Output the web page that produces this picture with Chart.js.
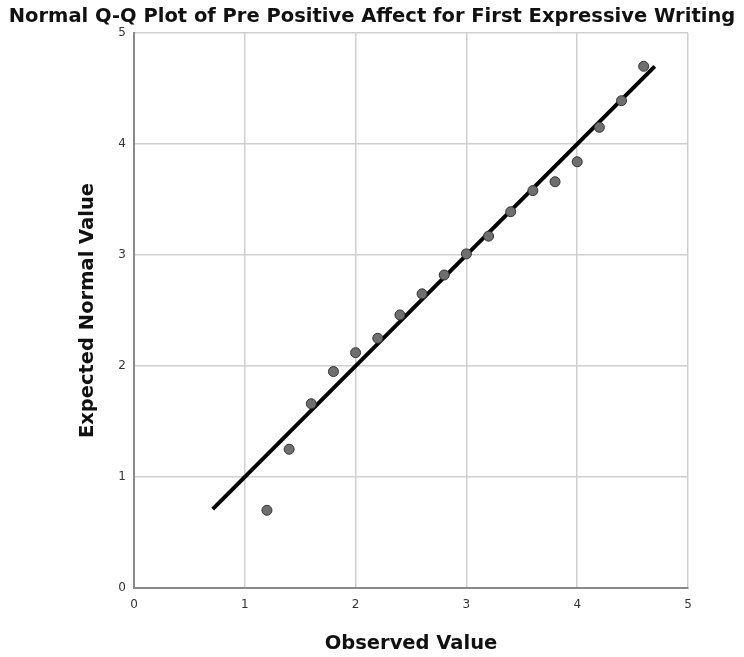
<!DOCTYPE html>
<html>
<head>
<meta charset="utf-8">
<script src="https://cdn.jsdelivr.net/npm/chart.js@4/dist/chart.umd.min.js"></script>
<style>
  html, body { margin: 0; padding: 0; background: #fff; }
  #wrap { width: 744px; height: 657px; }
</style>
</head>
<body>
<div id="wrap"><canvas id="qq"></canvas></div>
<script>
const observed = [1.2, 1.4, 1.6, 1.8, 2.0, 2.2, 2.4, 2.6, 2.8, 3.0, 3.2, 3.4, 3.6, 3.8, 4.0, 4.2, 4.4, 4.6];
const expected = [0.70, 1.25, 1.66, 1.95, 2.12, 2.25, 2.46, 2.65, 2.82, 3.01, 3.17, 3.39, 3.58, 3.66, 3.84, 4.15, 4.39, 4.70];

// reference line endpoints
const lineX = [0.71, 4.70];
const lineY = [0.71, 4.70];

const ticks = [0, 1, 2, 3, 4, 5];

const uiFont = "'DejaVu Sans', sans-serif";

let points = observed.map((x, i) => ({ x: x, y: expected[i] }));
let refLine = lineX.map((x, i) => ({ x: x, y: lineY[i] }));

new Chart(document.getElementById("qq"), {
  type: "scatter",
  data: {
    datasets: [
      {
        label: "line",
        data: refLine,
        showLine: true,
        borderColor: "#000",
        borderWidth: 4,
        pointRadius: 0,
        order: 1
      },
      {
        label: "points",
        data: points,
        backgroundColor: "#6f6f6f",
        borderColor: "#333",
        borderWidth: 1,
        pointRadius: 5,
        order: 0
      }
    ]
  },
  options: {
    responsive: true,
    maintainAspectRatio: false,
    animation: false,
    layout: { padding: 0 },
    plugins: {
      legend: { display: false },
      tooltip: { enabled: false },
      title: {
        display: true,
        text: "Normal Q-Q Plot of Pre Positive Affect for First Expressive Writing",
        color: "#111",
        font: { family: uiFont, size: 19.5, weight: "bold" },
        padding: { top: 5.3, bottom: 4.3 }
      }
    },
    scales: {
      x: {
        type: "linear",
        min: 0,
        max: 5,
        afterBuildTicks: s => { s.ticks = ticks.map(v => ({ value: v })); },
        afterFit: s => { s.height = 69; },
        grid: { color: "#cfcfcf", lineWidth: 1.5, drawTicks: false },
        border: { color: "#8a8a8a", width: 2 },
        ticks: { color: "#333", padding: 10, font: { family: uiFont, size: 12 } },
        title: {
          display: true,
          text: "Observed Value",
          color: "#111",
          font: { family: uiFont, size: 19.5, weight: "bold" },
          padding: { top: 0, bottom: 1.5 }
        }
      },
      y: {
        type: "linear",
        min: 0,
        max: 5,
        afterBuildTicks: s => { s.ticks = ticks.map(v => ({ value: v })); },
        afterFit: s => { s.width = 134; },
        grid: { color: "#cfcfcf", lineWidth: 1.5, drawTicks: false },
        border: { color: "#8a8a8a", width: 2 },
        ticks: { color: "#333", padding: 8, font: { family: uiFont, size: 12 } },
        title: {
          display: true,
          text: "Expected Normal Value",
          color: "#111",
          font: { family: uiFont, size: 19.5, weight: "bold" },
          padding: { top: 76, bottom: 0 }
        }
      },
      // empty right gutter so the title stays centred on the whole canvas
      gutter: {
        type: "linear",
        position: "right",
        afterFit: s => { s.width = 56; },
        grid: { display: false, drawOnChartArea: false },
        border: { display: false },
        ticks: { display: false }
      }
    }
  }
});
</script>
</body>
</html>
